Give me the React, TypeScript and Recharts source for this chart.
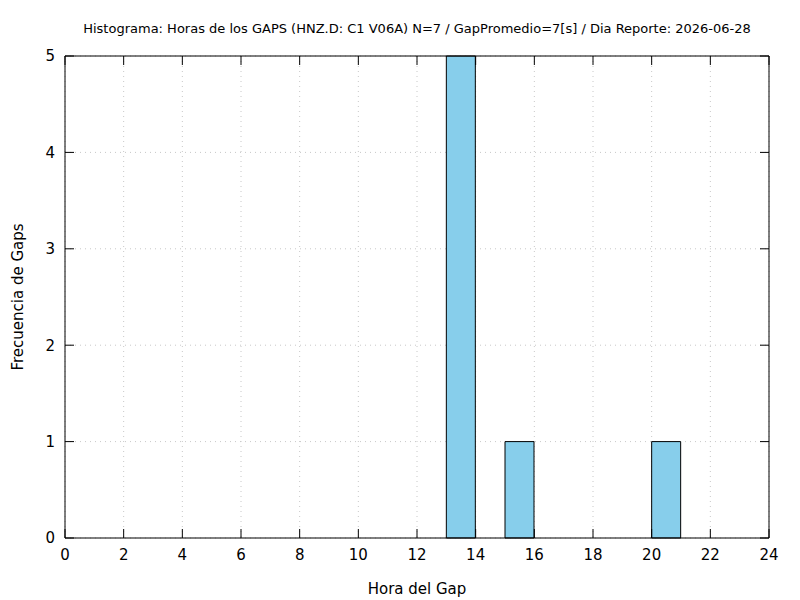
import { Bar, CartesianGrid, ComposedChart, XAxis, YAxis } from "recharts"

const binStart = [0, 1, 2, 3, 4, 5, 6, 7, 8, 9, 10, 11, 12, 13, 14, 15, 16, 17, 18, 19, 20, 21, 22, 23]
const gapCounts = [0, 0, 0, 0, 0, 0, 0, 0, 0, 0, 0, 0, 0, 5, 0, 1, 0, 0, 0, 0, 1, 0, 0, 0]
const xTicks = [0, 2, 4, 6, 8, 10, 12, 14, 16, 18, 20, 22, 24]
const yTicks = [0, 1, 2, 3, 4, 5]

const title =
	"Histograma: Horas de los GAPS (HNZ.D: C1 V06A) N=7 / GapPromedio=7[s] / Dia Reporte: 2026-06-28"

const data = binStart.map((b, i) => ({ bin: b, count: gapCounts[i] }))

const font = "DejaVu Sans, sans-serif"
const tickStyle = { fill: "#000", fontSize: 15, fontFamily: font }
// mirrored axes only need the tick marks, labels are made invisible
const hiddenTick = { fill: "transparent", fontSize: 1 }

export default function App() {
	return (
		<div style={{ position: "absolute", left: 0, top: 0, width: 800, height: 600, background: "#fff", fontFamily: font }}>
			<div
				style={{
					position: "absolute",
					top: 21,
					left: 65,
					width: 704,
					textAlign: "center",
					fontSize: 13,
					color: "#000",
					whiteSpace: "nowrap",
				}}
			>
				{title}
			</div>
			<ComposedChart
				width={800}
				height={600}
				data={data}
				barCategoryGap={0}
				barGap={0}
				margin={{ top: 55, right: 30, bottom: 0, left: 0 }}
			>
				<CartesianGrid
					xAxisId="hours"
					yAxisId="left"
					stroke="#c8c8c8"
					strokeDasharray="1 4"
				/>
				<XAxis
					xAxisId="hours"
					dataKey="bin"
					type="number"
					domain={[0, 24]}
					allowDataOverflow
					ticks={xTicks}
					interval={0}
					height={62}
					axisLine={{ stroke: "#000", strokeWidth: 1 }}
					tickLine={{ stroke: "#000" }}
					tickSize={-9}
					tickMargin={20}
					tick={tickStyle}
					label={{
						value: "Hora del Gap",
						position: "insideBottom",
						offset: 6,
						style: { fill: "#000", fontSize: 15, fontFamily: font },
					}}
				/>
				<XAxis xAxisId="bins" dataKey="bin" type="category" hide height={0} />
				<XAxis
					xAxisId="top"
					orientation="top"
					dataKey="bin"
					type="number"
					domain={[0, 24]}
					allowDataOverflow
					ticks={xTicks}
					interval={0}
					height={1}
					axisLine={{ stroke: "#000", strokeWidth: 1 }}
					tickLine={{ stroke: "#000" }}
					tickSize={-9}
					tick={hiddenTick}
				/>
				<YAxis
					yAxisId="left"
					type="number"
					domain={[0, 5]}
					ticks={yTicks}
					interval={0}
					width={65}
					axisLine={{ stroke: "#000", strokeWidth: 1 }}
					tickLine={{ stroke: "#000" }}
					tickSize={-9}
					tickMargin={19}
					tick={tickStyle}
					label={{
						value: "Frecuencia de Gaps",
						angle: -90,
						position: "insideLeft",
						offset: 18,
						style: { fill: "#000", fontSize: 15, fontFamily: font, textAnchor: "middle" },
					}}
				/>
				<YAxis
					yAxisId="right"
					orientation="right"
					dataKey="count"
					type="number"
					domain={[0, 5]}
					allowDataOverflow
					ticks={yTicks}
					interval={0}
					width={1}
					axisLine={{ stroke: "#000", strokeWidth: 1 }}
					tickLine={{ stroke: "#000" }}
					tickSize={-9}
					tick={hiddenTick}
				/>
				<Bar
					xAxisId="bins"
					yAxisId="left"
					dataKey="count"
					fill="#87ceeb"
					stroke="#000"
					strokeWidth={1}
					isAnimationActive={false}
				/>
			</ComposedChart>
		</div>
	)
}
